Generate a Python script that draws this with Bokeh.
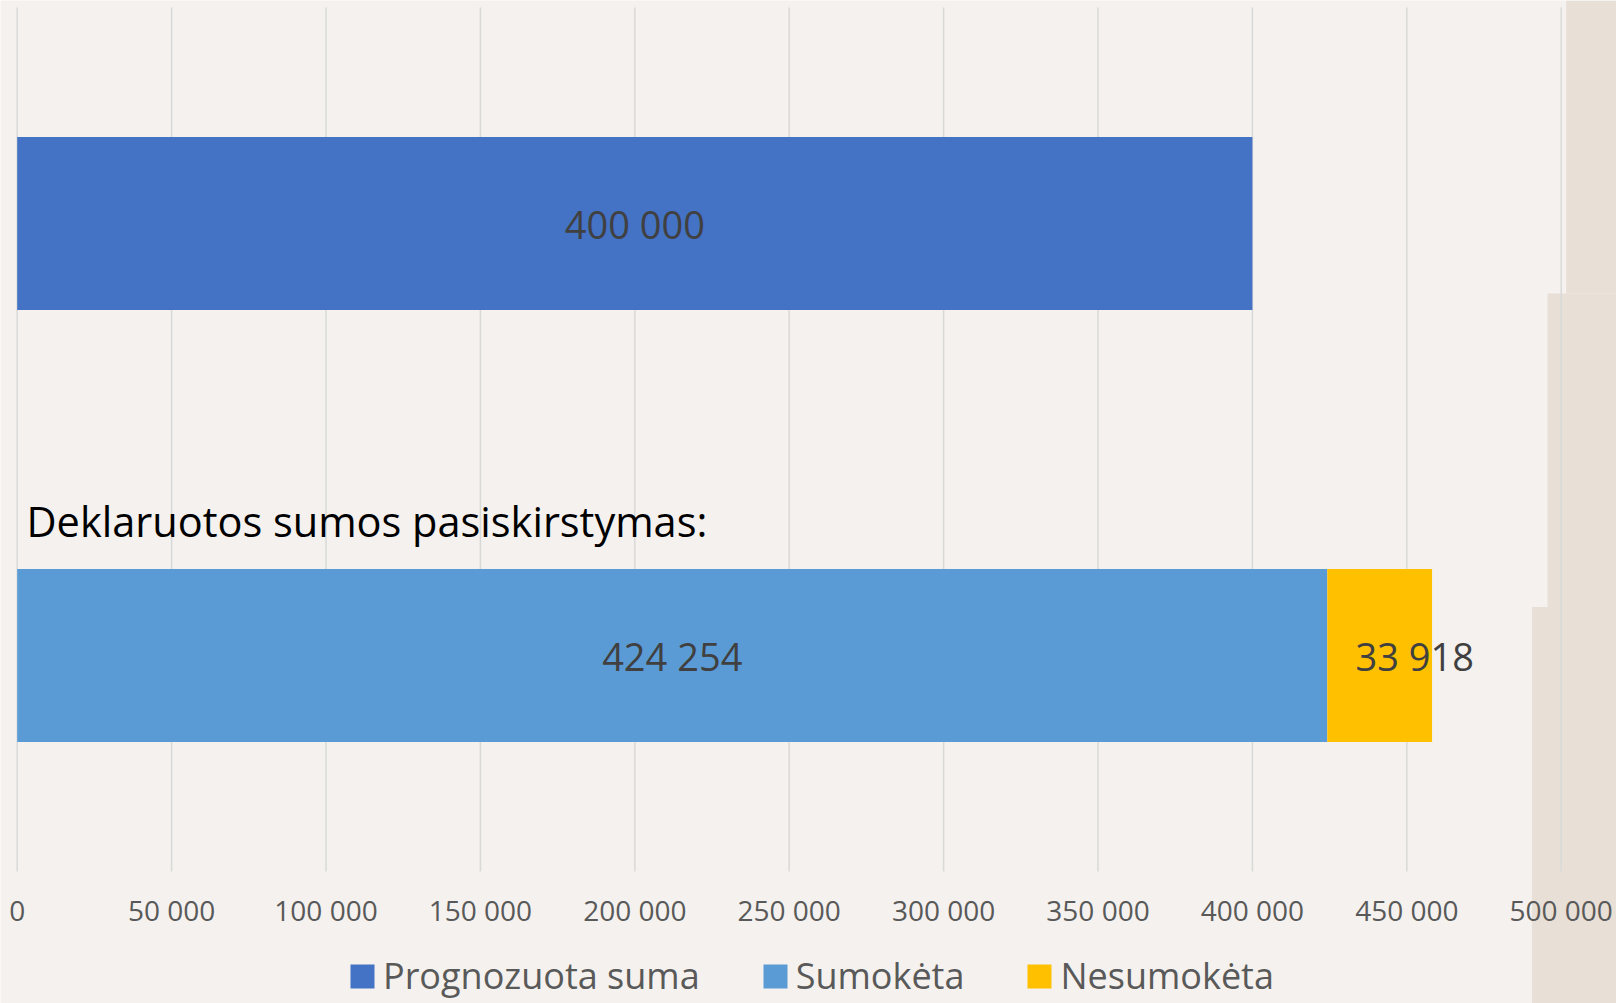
from bokeh.plotting import figure
from bokeh.models import (Range1d, LinearAxis, FixedTicker, CustomJSTickFormatter,
                          Legend, LegendItem, Label)
from bokeh.core.properties import value
from bokeh.embed import file_html
from bokeh.resources import INLINE

# ---- data ----
categories = ["Deklaruota", "Prognozuota"]          # bottom, top
series_names = ["Prognozuota suma", "Sumokėta", "Nesumokėta"]
prognozuota = [0, 400000]
sumoketa = [424254, 0]
nesumoketa = [33918, 0]
tick_values = [0, 50000, 100000, 150000, 200000, 250000, 300000, 350000, 400000, 450000, 500000]
annotation_text = "Deklaruotos sumos pasiskirstymas:"

# decorative background steps (slide background) in data units
bg_left = [501620, 495560, 490540]
bg_bottom = [0.838, 0.1123, -0.8056]
bg_top = [1.5162, 0.838, 0.1123]

colors = ["#4472C4", "#5B9BD5", "#FFC000"]
BG = "#F4F1EE"
BEIGE = "#E8DFD7"

W, H = 1616, 1003
X0, X1 = -5408, 517905
Y0, Y1 = -0.8056, 1.5162
p = figure(width=W, height=H, output_backend="svg", toolbar_location=None,
           x_range=Range1d(X0, X1), y_range=Range1d(Y0, Y1),
           x_axis_type=None, y_axis_type=None, min_border=0)
p.background_fill_color = BG
p.border_fill_color = BG
p.outline_line_color = None

ypos = list(range(len(categories)))

# background decoration
p.quad(left=bg_left, right=[X1] * len(bg_left), bottom=bg_bottom, top=bg_top,
       fill_color=BEIGE, line_color=None)

# gridlines
p.segment(x0=tick_values, x1=tick_values, y0=[-0.5] * len(tick_values),
          y1=[len(categories) - 0.5] * len(tick_values),
          line_color="#D9D9D9", line_width=1.5)

# bars
bh = 0.4
r1 = p.hbar(y=[ypos[1]], left=[0], right=[prognozuota[1]], height=bh,
            fill_color=colors[0], line_color=None)
r2 = p.hbar(y=[ypos[0]], left=[0], right=[sumoketa[0]], height=bh,
            fill_color=colors[1], line_color=None)
r3 = p.hbar(y=[ypos[0]], left=[sumoketa[0]], right=[sumoketa[0] + nesumoketa[0]], height=bh,
            fill_color=colors[2], line_color=None)

def fmt(v):
    return f"{v:,}".replace(",", " ")

lab_font = value("Open Sans")
p.text(x=[prognozuota[1] / 2, sumoketa[0] / 2], y=[ypos[1], ypos[0]],
       text=[fmt(prognozuota[1]), fmt(sumoketa[0])],
       text_font=lab_font, text_font_size="38px", text_color="#404040",
       text_align="center", text_baseline="middle", y_offset=1)
p.text(x=[sumoketa[0] + nesumoketa[0] / 2], y=[ypos[0]], text=[fmt(nesumoketa[0])],
       x_offset=35, y_offset=1,
       text_font=lab_font, text_font_size="38px", text_color="#404040",
       text_align="center", text_baseline="middle")

p.add_layout(Label(x=3012, y=0.311, text=annotation_text, text_font="Open Sans",
                   text_font_size="41.5px", text_color="#000000",
                   text_align="left", text_baseline="alphabetic"))

# x axis
ax = LinearAxis(ticker=FixedTicker(ticks=tick_values), fixed_location=-0.5,
                formatter=CustomJSTickFormatter(code="""
                    return tick.toFixed(0).replace(/\\B(?=(\\d{3})+(?!\\d))/g, ' ');
                """))
ax.axis_line_color = None
ax.major_tick_line_color = None
ax.minor_tick_line_color = None
ax.major_tick_out = 0
ax.major_tick_in = 0
ax.major_label_standoff = 20
ax.major_label_text_font = "Open Sans"
ax.major_label_text_font_size = "28px"
ax.major_label_text_color = "#595959"
p.add_layout(ax, "below")

legend = Legend(items=[LegendItem(label=series_names[0], renderers=[r1]),
                       LegendItem(label=series_names[1], renderers=[r2]),
                       LegendItem(label=series_names[2], renderers=[r3])],
                orientation="horizontal", location=(347, 3))
legend.glyph_width = 30
legend.glyph_height = 30
legend.label_standoff = 6
legend.spacing = 60
legend.padding = 0
legend.margin = 0
legend.border_line_color = None
legend.background_fill_alpha = 0
legend.label_text_font = "Open Sans"
legend.label_text_font_size = "36px"
legend.label_text_color = "#595959"
legend.label_height = 30
p.add_layout(legend, "center")

open("out.html", "w").write(file_html(p, INLINE))
